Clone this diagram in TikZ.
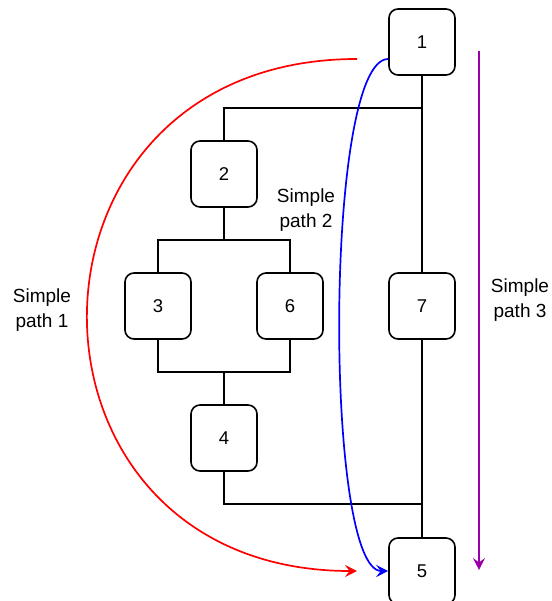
\documentclass[tikz,border=0pt]{standalone}
\usepackage{fontspec}
\setmainfont{Liberation Sans}
\usetikzlibrary{arrows.meta}
\definecolor{pathred}{RGB}{255,0,0}
\definecolor{pathblue}{RGB}{0,0,255}
\definecolor{pathpurple}{RGB}{153,0,170}
\begin{document}
\begin{tikzpicture}[x=1pt,y=-1pt,
  block/.style={draw=black,line width=1.6pt,rounded corners=9pt,
    minimum width=66pt,minimum height=66pt,inner sep=0pt,
    font=\fontsize{18.5}{21}\selectfont},
  wire/.style={draw=black,line width=1.6pt},
  note/.style={align=center,font=\fontsize{19}{24.5}\selectfont,inner sep=0pt},
  tip/.style={-{Stealth[length=12pt,width=12pt,inset=4.5pt]}},
  flow/.style={line width=1.7pt,tip}]
\useasboundingbox (0,0) rectangle (551,601);
% blocks
\node[block] (n1) at (422,42) {1};
\node[block] (n2) at (224,174) {2};
\node[block] (n3) at (158,306) {3};
\node[block] (n6) at (290,306) {6};
\node[block] (n7) at (422,306) {7};
\node[block] (n4) at (224,438) {4};
\node[block] (n5) at (422,571) {5};
% junction points
\coordinate (j1) at (422,108);
\coordinate (j2) at (224,240);
\coordinate (j3) at (224,372);
\coordinate (j4) at (422,504);
% wiring
\path[wire] (n1.south) -- (n7.north);
\path[wire] (n7.south) -- (n5.north);
\path[wire] (j1) -| (n2.north);
\path[wire] (n2.south) -- (j2);
\path[wire] (n3.north) |- (j2) -| (n6.north);
\path[wire] (n3.south) |- (j3) -| (n6.south);
\path[wire] (j3) -- (n4.north);
\path[wire] (n4.south) |- (j4);
% simple paths
\coordinate (r0) at (357,59);
\coordinate (r1) at (357,571);
\draw[flow,pathred] (r0) .. controls (-2,59) and (-2,571) .. (r1);
\draw[flow,pathblue] (n1.west |- r0) .. controls (324,59) and (324,571) .. (n5.west);
\coordinate (p0) at (479,51);
\coordinate (p1) at (479,570);
\draw[flow,pathpurple] (p0) -- (p1);
% labels
\node[note] (t1) at (42,310) {Simple\\path 1};
\node[note] (t2) at (306,210) {Simple\\path 2};
\node[note] (t3) at (520,300) {Simple\\path 3};
\end{tikzpicture}
\end{document}
